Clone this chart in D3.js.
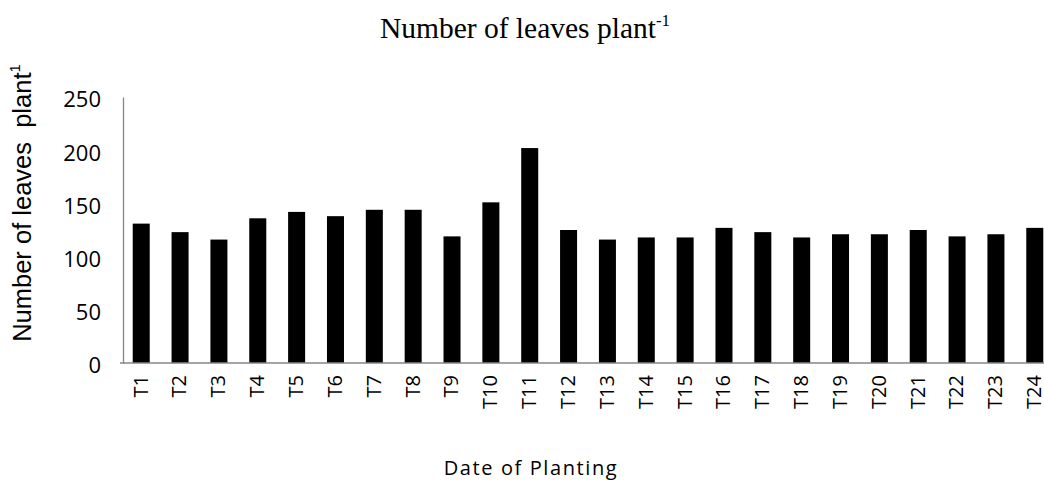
<!DOCTYPE html>
<html>
<head>
<meta charset="utf-8">
<script src="https://cdn.jsdelivr.net/npm/d3@7"></script>
<style>
  body { margin: 0; background: #fff; }
  svg { display: block; }
</style>
</head>
<body>
<script>
// treatments T1..T24, values
var categories = ["T1","T2","T3","T4","T5","T6","T7","T8","T9","T10","T11","T12",
                  "T13","T14","T15","T16","T17","T18","T19","T20","T21","T22","T23","T24"];
var leaves = [131, 123, 116, 136, 142, 138, 144, 144, 119, 151, 202, 125,
              116, 118, 118, 127, 123, 118, 121, 121, 125, 119, 121, 127];
var yTicks = [0, 50, 100, 150, 200, 250];

var W = 1044, H = 480;
var svg = d3.select("body").append("svg")
    .attr("width", W)
    .attr("height", H);

var x = d3.scaleBand()
    .domain(categories)
    .range([123, 1053])
    .paddingInner(0.562)
    .paddingOuter(0.25);

var y = d3.scaleLinear()
    .domain([0, 250])
    .range([363, 97]);

// bars
svg.selectAll("rect.bar")
    .data(leaves)
    .enter()
    .append("rect")
    .attr("class", "bar")
    .attr("x", function (d, i) { return x(categories[i]); })
    .attr("width", x.bandwidth())
    .attr("y", function (d) { return y(d); })
    .attr("height", function (d) { return y(0) - y(d); })
    .attr("fill", "#000");

// y axis
var yAxis = svg.append("g")
    .attr("transform", "translate(123,0)")
    .call(d3.axisLeft(y).tickValues(yTicks).tickSize(0).tickPadding(22));
yAxis.select(".domain").attr("stroke", "#868686").attr("stroke-width", 1.3);
yAxis.selectAll("text")
    .attr("font-family", "'Open Sans', sans-serif")
    .attr("font-size", 22)
    .attr("fill", "#000")
    .attr("dy", "0.45em");

// x axis
var xAxis = svg.append("g")
    .attr("transform", "translate(0,363)")
    .call(d3.axisBottom(x).tickSize(0));
xAxis.select(".domain")
    .attr("stroke", "#868686").attr("stroke-width", 1.3)
    .attr("d", "M120,0H" + W);
xAxis.selectAll("text")
    .attr("font-family", "'Open Sans', sans-serif")
    .attr("font-size", 20)
    .attr("fill", "#000")
    .attr("text-anchor", "end")
    .attr("transform", "rotate(-90)")
    .attr("x", -12)
    .attr("y", 0)
    .attr("dy", "0.32em");

// title
var title = svg.append("text")
    .attr("x", 525)
    .attr("y", 38)
    .attr("text-anchor", "middle")
    .attr("font-family", "'Liberation Serif', 'Times New Roman', serif")
    .attr("font-size", 29.5)
    .attr("fill", "#000")
    .text("Number of leaves plant");
title.append("tspan")
    .attr("font-size", 17)
    .attr("dy", -12)
    .text("-1");

// y label
var yLabel = svg.append("text")
    .attr("transform", "translate(31,203) rotate(-90)")
    .attr("text-anchor", "middle")
    .attr("font-family", "'Liberation Sans', Arial, sans-serif")
    .attr("font-size", 25.5)
    .attr("fill", "#000")
    .text("Number of leaves\u00a0 plant");
yLabel.append("tspan")
    .attr("font-size", 15)
    .attr("dy", -11)
    .text("1");

// x label
svg.append("text")
    .attr("x", 531)
    .attr("y", 475)
    .attr("text-anchor", "middle")
    .attr("font-family", "'Open Sans', sans-serif")
    .attr("font-size", 20)
    .attr("letter-spacing", 1.6)
    .attr("fill", "#000")
    .text("Date of Planting");
</script>
</body>
</html>
